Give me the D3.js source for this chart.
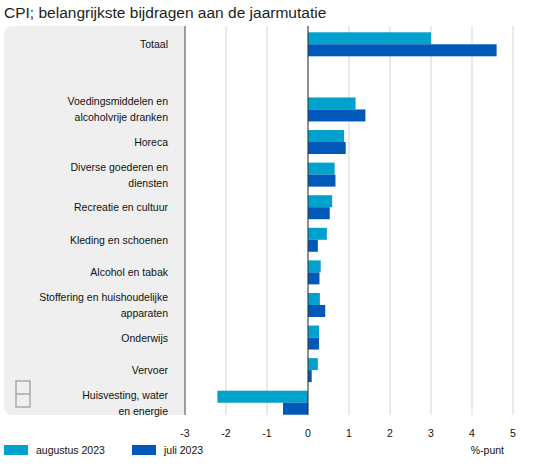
<!DOCTYPE html><html><head><meta charset="utf-8"><script src="https://cdn.jsdelivr.net/npm/d3@7"></script>
<style>body{margin:0;background:#fff;font-family:Arial,"Liberation Sans",sans-serif}</style></head><body><svg id="c" width="538" height="471"></svg>
<script>
const categories=["Totaal","","Voedingsmiddelen en|alcoholvrije dranken","Horeca","Diverse goederen en|diensten","Recreatie en cultuur","Kleding en schoenen","Alcohol en tabak","Stoffering en huishoudelijke|apparaten","Onderwijs","Vervoer","Huisvesting, water|en energie"];
const aug=[3.0,null,1.16,0.88,0.65,0.59,0.46,0.31,0.29,0.27,0.24,-2.21];
const jul=[4.6,null,1.4,0.92,0.67,0.53,0.24,0.28,0.42,0.27,0.09,-0.61];
const ticks=[-3,-2,-1,0,1,2,3,4,5];
const seriesNames=["augustus 2023","juli 2023"];
const colors=["#00a1cd","#0058b8"];
const svg=d3.select("#c");
svg.append("text").attr("x",4).attr("y",18).attr("font-size",15.5).attr("fill","#222").text("CPI; belangrijkste bijdragen aan de jaarmutatie");
const x=d3.scaleLinear().domain([-3,5]).range([185,513]);
const y=d3.scaleBand().domain(d3.range(categories.length)).range([28,419]);
svg.append("rect").attr("x",4).attr("y",26).attr("width",196).attr("height",389).attr("rx",8).attr("fill","#efefef");
svg.append("rect").attr("x",185).attr("y",26).attr("width",20).attr("height",389).attr("fill","#fff");
svg.selectAll(".g").data(ticks).join("line").attr("x1",d=>x(d)).attr("x2",d=>x(d)).attr("y1",26).attr("y2",415).attr("stroke",d=>d===-3?"#444":"#e3e3e3").attr("stroke-width",d=>d===-3?1:1.5);
const bh=12;
categories.forEach((c,i)=>{
 if(aug[i]==null)return;
 const cy=y(i)+y.bandwidth()/2;
 [aug[i],jul[i]].forEach((v,k)=>{
  svg.append("rect").attr("x",x(Math.min(0,v))).attr("width",Math.abs(x(v)-x(0))).attr("y",k?cy:cy-bh).attr("height",bh).attr("fill",colors[k]);
 });
 const lines=c.split("|");
 lines.forEach((l,j)=>svg.append("text").attr("x",168).attr("y",cy+4+(j-(lines.length-1)/2)*16).attr("text-anchor","end").attr("font-size",10.5).attr("fill","#111").text(l));
});
svg.append("line").attr("x1",x(0)).attr("x2",x(0)).attr("y1",26).attr("y2",415).attr("stroke","#333");
svg.selectAll(".t").data(ticks).join("text").attr("x",d=>x(d)).attr("y",437).attr("text-anchor","middle").attr("font-size",10.5).attr("fill","#111").text(d=>d);
// cbs logo hint
const lg=svg.append("g").attr("fill","none").attr("stroke","#aaa").attr("stroke-width",1.5);
lg.append("rect").attr("x",16).attr("y",381).attr("width",14).attr("height",26);
lg.append("line").attr("x1",16).attr("x2",30).attr("y1",394).attr("y2",394);
seriesNames.forEach((s,k)=>{
 const lx=[4,132][k];
 svg.append("rect").attr("x",lx).attr("y",445).attr("width",24).attr("height",10).attr("fill",colors[k]);
 svg.append("text").attr("x",lx+32).attr("y",454).attr("font-size",10.5).attr("fill","#111").text(s);
});
svg.append("text").attr("x",504).attr("y",454).attr("text-anchor","end").attr("font-size",10.5).attr("fill","#111").text("%-punt");
</script></body></html>
